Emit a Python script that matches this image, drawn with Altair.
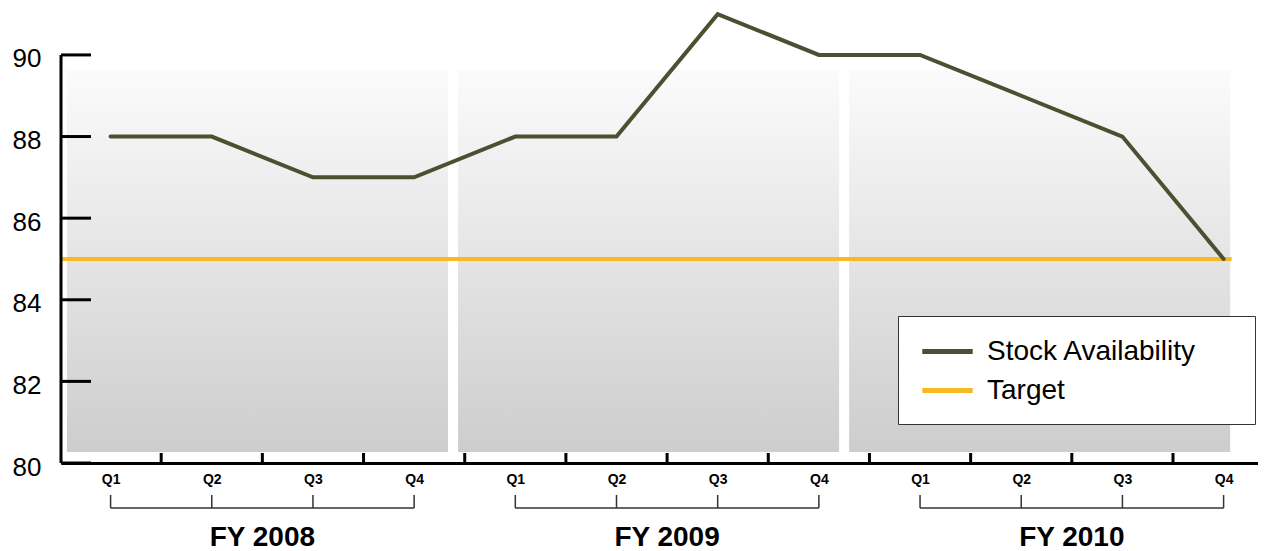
import altair as alt
import pandas as pd

# ---------------- data ----------------
quarters = ["Q1", "Q2", "Q3", "Q4"] * 3
years = ["FY 2008", "FY 2009", "FY 2010"]
stock = [88, 88, 87, 87, 88, 88, 91, 90, 90, 89, 88, 85]
target = 85
y_ticks = [80, 82, 84, 86, 88, 90]

FONT = "Liberation Sans"
OLIVE = "#4a5130"
ORANGE = "#f7b924"

W, H = 1197, 455
XDOM = [-0.49, 11.34]
YDOM = [80, 91.15]

idx = list(range(len(stock)))
df = pd.DataFrame({"i": idx, "q": quarters, "value": stock,
                   "series": ["Stock Availability"] * len(stock)})
tdf = pd.DataFrame({"x0": [XDOM[0]], "x1": [11.08], "value": [target], "series": ["Target"]})

panels = pd.DataFrame({"year": years, "k": [0, 1, 2]})
panels["x0"] = -0.431 + 3.865 * panels["k"]
panels["x1"] = panels["x0"] + 3.766
panels["y0"] = 80.27
panels["y1"] = 89.63

groups = pd.DataFrame({"year": years, "k": [0, 1, 2]})
groups["first"] = groups["k"] * 4
groups["last"] = groups["k"] * 4 + 3
groups["mid"] = groups["k"] * 4 + 1.5

ytick_df = pd.DataFrame({"t": y_ticks})
yline_df = pd.DataFrame({"a": [min(y_ticks)], "b": [max(y_ticks)]})
xtick_df = pd.DataFrame({"m": [i + 0.5 for i in idx[:-1]]})

xs = alt.Scale(domain=XDOM, nice=False, zero=False)
ys = alt.Scale(domain=YDOM, nice=False, zero=False)
cs = alt.Scale(domain=["Stock Availability", "Target"], range=[OLIVE, ORANGE])

XAX = alt.Axis(
    values=idx, title=None, grid=False, ticks=False, tickSize=0,
    domain=True, domainColor="black", domainWidth=3,
    labelExpr="'Q' + (datum.value % 4 + 1)",
    labelFont=FONT, labelFontSize=14, labelFontWeight="bold",
    labelColor="black", labelPadding=9)
YAX = alt.Axis(
    values=y_ticks, title=None, grid=False, ticks=False, domain=False,
    labelFont=FONT, labelFontSize=26, labelColor="black",
    labelPadding=20, labelOffset=4)

grad = alt.Gradient(
    gradient="linear", x1=0, x2=0, y1=0, y2=1,
    stops=[alt.GradientStop(offset=0, color="#fbfbfb"),
           alt.GradientStop(offset=1, color="#cdcdcd")],
)

# legend: an invisible 1px title on the right widens the box like the original
legend = alt.Legend(
    orient="none", legendX=837, legendY=308,
    title="\u2800", titleFontSize=1, titleOrient="right", titlePadding=38,
    symbolType="M-0.8,0H2.8", symbolSize=784, symbolStrokeWidth=5,
    labelFont=FONT, labelFontSize=28, labelColor="black", labelOffset=37,
    labelLimit=600,
    padding=19, rowPadding=8, strokeColor="#333333", fillColor="white",
)

panel_layer = alt.Chart(panels).mark_rect(fill=grad).encode(
    x=alt.X("x0:Q", scale=xs, axis=XAX), x2="x1:Q",
    y=alt.Y("y0:Q", scale=ys, axis=YAX), y2="y1:Q",
)

target_layer = alt.Chart(tdf).mark_rule(strokeWidth=4).encode(
    x=alt.X("x0:Q", scale=xs, axis=XAX), x2="x1:Q",
    y=alt.Y("value:Q", scale=ys, axis=YAX),
    color=alt.Color("series:N", scale=cs, legend=legend),
)

line_layer = alt.Chart(df).mark_line(strokeWidth=4, strokeCap="round").encode(
    x=alt.X("i:Q", scale=xs, axis=XAX),
    y=alt.Y("value:Q", scale=ys, axis=YAX),
    color=alt.Color("series:N", scale=cs, legend=legend),
)

yline = alt.Chart(yline_df).mark_rule(strokeWidth=3, color="black").encode(
    x=alt.value(0), y=alt.Y("a:Q", scale=ys, axis=YAX), y2="b:Q",
)
yticks = alt.Chart(ytick_df).mark_rule(strokeWidth=3, color="black").encode(
    x=alt.value(0), x2=alt.value(30), y=alt.Y("t:Q", scale=ys, axis=YAX),
)
xticks = alt.Chart(xtick_df).mark_rule(strokeWidth=3, color="black").encode(
    x=alt.X("m:Q", scale=xs, axis=XAX), y=alt.value(H - 10), y2=alt.value(H),
)

bracket_h = alt.Chart(groups).mark_rule(strokeWidth=1.5, color="#333333").encode(
    x=alt.X("first:Q", scale=xs, axis=XAX), x2="last:Q", y=alt.value(H + 45),
)
bracket_v = alt.Chart(df).mark_rule(strokeWidth=1.5, color="#333333").encode(
    x=alt.X("i:Q", scale=xs, axis=XAX), y=alt.value(H + 32), y2=alt.value(H + 45),
)
fy_text = alt.Chart(groups).mark_text(
    font=FONT, fontSize=28, fontWeight="bold", color="black", baseline="middle"
).encode(
    x=alt.X("mid:Q", scale=xs, axis=XAX), y=alt.value(H + 74.5), text="year:N",
)

chart = alt.layer(
    panel_layer, target_layer, line_layer, yline, yticks, xticks,
    bracket_h, bracket_v, fy_text,
).properties(
    width=W, height=H, background="white",
    autosize=alt.AutoSizeParams(type="none"),
    padding={"left": 53, "top": 0, "right": 0, "bottom": 88},
).configure_view(strokeWidth=0, stroke="transparent")

chart.save("out.html", embed_options={"renderer": "svg", "actions": False})
